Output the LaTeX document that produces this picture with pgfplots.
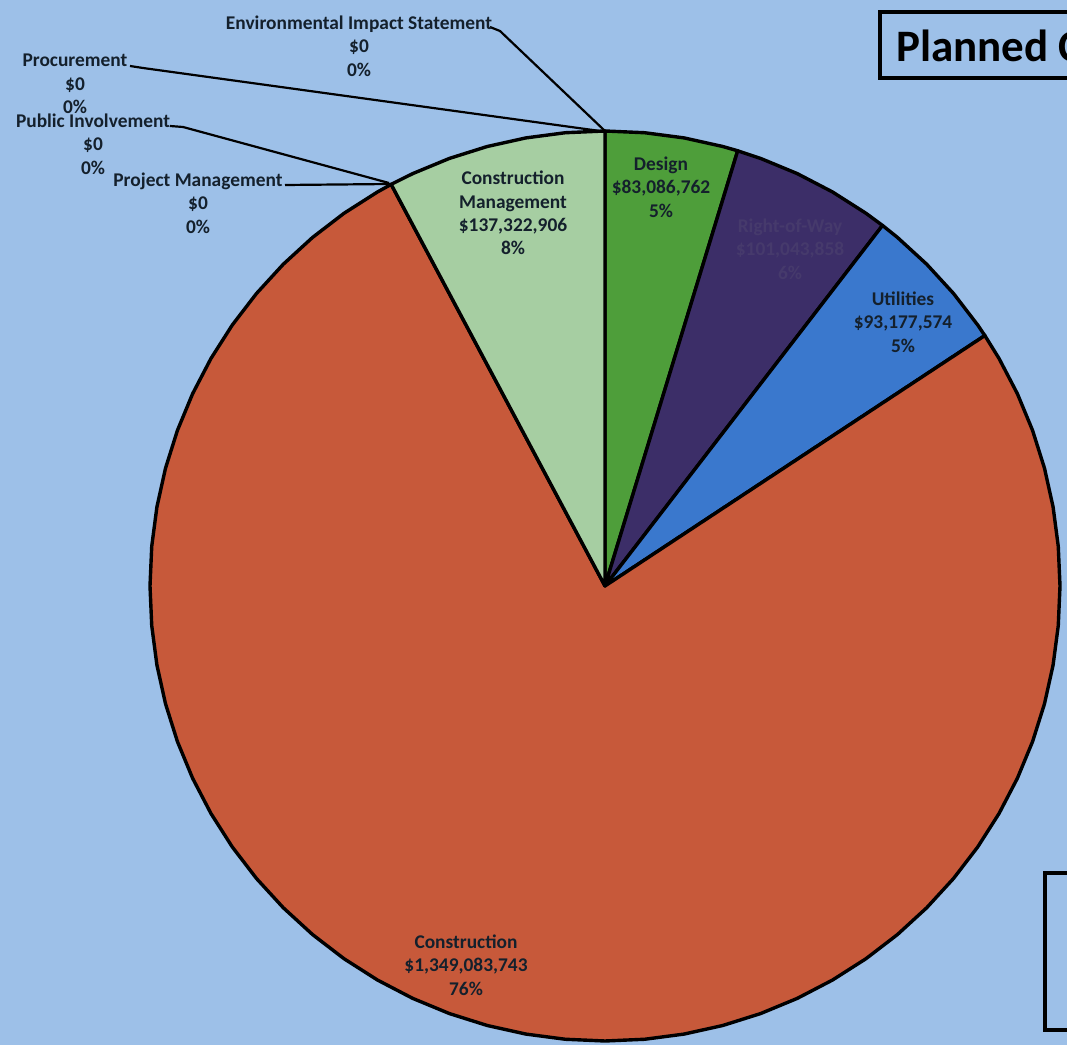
\documentclass[border=0pt]{standalone}
\usepackage{pgfplots}
\pgfplotsset{compat=1.18}
\usepackage{fontspec}
\setmainfont{Carlito}
\definecolor{bgblue}{RGB}{157,192,232}
\definecolor{cConstr}{RGB}{199,89,58}
\definecolor{cCM}{RGB}{166,206,162}
\definecolor{cDesign}{RGB}{78,158,58}
\definecolor{cROW}{RGB}{60,46,104}
\definecolor{cUtil}{RGB}{58,120,205}
\definecolor{txt}{RGB}{20,32,44}
\definecolor{rowtxt}{RGB}{70,58,108}
% values in millions of dollars
\def\vD{83.086762}   % Design
\def\vR{101.043858}  % Right-of-Way
\def\vU{93.177574}   % Utilities
\def\vC{1349.083743} % Construction
\def\vM{137.322906}  % Construction Management
\pgfmathsetmacro\tot{\vD+\vR+\vU+\vC+\vM}
\pgfmathsetmacro\aA{90-\vD/\tot*360}
\pgfmathsetmacro\aB{\aA-\vR/\tot*360}
\pgfmathsetmacro\aC{\aB-\vU/\tot*360}
\pgfmathsetmacro\aD{\aC-\vC/\tot*360}
\pgfmathsetmacro\aDD{\aD+360}
\newcommand{\lbl}{\fontsize{9.7}{11.7}\selectfont\bfseries}
\begin{document}
\begin{tikzpicture}
\path[use as bounding box] (0,0) rectangle (533.5pt,522.5pt);
\begin{axis}[at={(0,0)}, anchor=south west, scale only axis,
  width=533.5pt, height=522.5pt,
  xmin=-605, xmax=462, ymin=-459, ymax=586,
  axis line style={draw=none}, ticks=none,
  axis background/.style={fill=bgblue},
  every axis plot/.append style={line join=round},
]
\def\R{455}
% Design
\addplot[data cs=polar, fill=cDesign, draw=black, line width=1.7pt] coordinates {
(0,0) (90,\R) (85,\R) (80,\R) (75,\R) (\aA,\R)} -- cycle;
% Right-of-Way
\addplot[data cs=polar, fill=cROW, draw=black, line width=1.7pt] coordinates {
(0,0) (\aA,\R) (70,\R) (65,\R) (60,\R) (55,\R) (\aB,\R)} -- cycle;
% Utilities
\addplot[data cs=polar, fill=cUtil, draw=black, line width=1.7pt] coordinates {
(0,0) (\aB,\R) (50,\R) (45,\R) (40,\R) (35,\R) (\aC,\R)} -- cycle;
% Construction
\addplot[data cs=polar, fill=cConstr, draw=black, line width=1.7pt] coordinates {
(0,0) (\aC,\R) (30,\R) (25,\R) (20,\R) (15,\R) (10,\R) (5,\R) (0,\R)
(-5,\R) (-10,\R) (-15,\R) (-20,\R) (-25,\R) (-30,\R) (-35,\R) (-40,\R)
(-45,\R) (-50,\R) (-55,\R) (-60,\R) (-65,\R) (-70,\R) (-75,\R) (-80,\R)
(-85,\R) (-90,\R) (-95,\R) (-100,\R) (-105,\R) (-110,\R) (-115,\R) (-120,\R)
(-125,\R) (-130,\R) (-135,\R) (-140,\R) (-145,\R) (-150,\R) (-155,\R) (-160,\R)
(-165,\R) (-170,\R) (-175,\R) (-180,\R) (-185,\R) (-190,\R) (-195,\R) (-200,\R)
(-205,\R) (-210,\R) (-215,\R) (-220,\R) (-225,\R) (-230,\R) (-235,\R) (-240,\R)
(\aD,\R)} -- cycle;
% Construction Management
\addplot[data cs=polar, fill=cCM, draw=black, line width=1.7pt] coordinates {
(0,0) (\aDD,\R) (115,\R) (110,\R) (105,\R) (100,\R) (95,\R) (90,\R)} -- cycle;

% leader lines for zero-valued categories
\addplot[black, line width=1.1pt, no marks] coordinates {(-115,559) (-105,555) (0,455)};
\addplot[black, line width=1.1pt, no marks] coordinates {(-475,520) (-462,518) (-5,455)};
\addplot[black, line width=1.1pt, no marks] coordinates {(-435,460) (-422,459) (-216,403)};
\addplot[black, line width=1.1pt, no marks] coordinates {(-320,401) (-214,402)};

% slice labels
\node[font=\lbl, align=center, text=txt] at (axis cs:-92,373) {Construction\\Management\\\$137,322,906\\8\%};
\node[font=\lbl, align=center, text=txt] at (axis cs:56,399) {Design\\\$83,086,762\\5\%};
\node[font=\lbl, align=center, text=rowtxt] at (axis cs:185,337) {Right-of-Way\\\$101,043,858\\6\%};
\node[font=\lbl, align=center, text=txt] at (axis cs:298,264) {Utilities\\\$93,177,574\\5\%};
\node[font=\lbl, align=center, text=txt] at (axis cs:-139,-379) {Construction\\\$1,349,083,743\\76\%};
\node[font=\lbl, align=center, text=txt] at (axis cs:-246,540) {Environmental Impact Statement\\\$0\\0\%};
\node[font=\lbl, align=center, text=txt] at (axis cs:-530,502) {Procurement\\\$0\\0\%};
\node[font=\lbl, align=center, text=txt] at (axis cs:-512,442) {Public Involvement\\\$0\\0\%};
\node[font=\lbl, align=center, text=txt] at (axis cs:-407,383) {Project Management\\\$0\\0\%};

% title box (cropped at right)
\draw[line width=2pt, black] (axis cs:275,574) rectangle (axis cs:520,508);
\node[anchor=base west, font=\fontsize{22.5}{26}\selectfont\bfseries, text=black] at (axis cs:284,524) {Planned Cost};
% box at lower right (cropped)
\draw[line width=2pt, black] (axis cs:440,-287) rectangle (axis cs:520,-444);
\end{axis}
\end{tikzpicture}
\end{document}
